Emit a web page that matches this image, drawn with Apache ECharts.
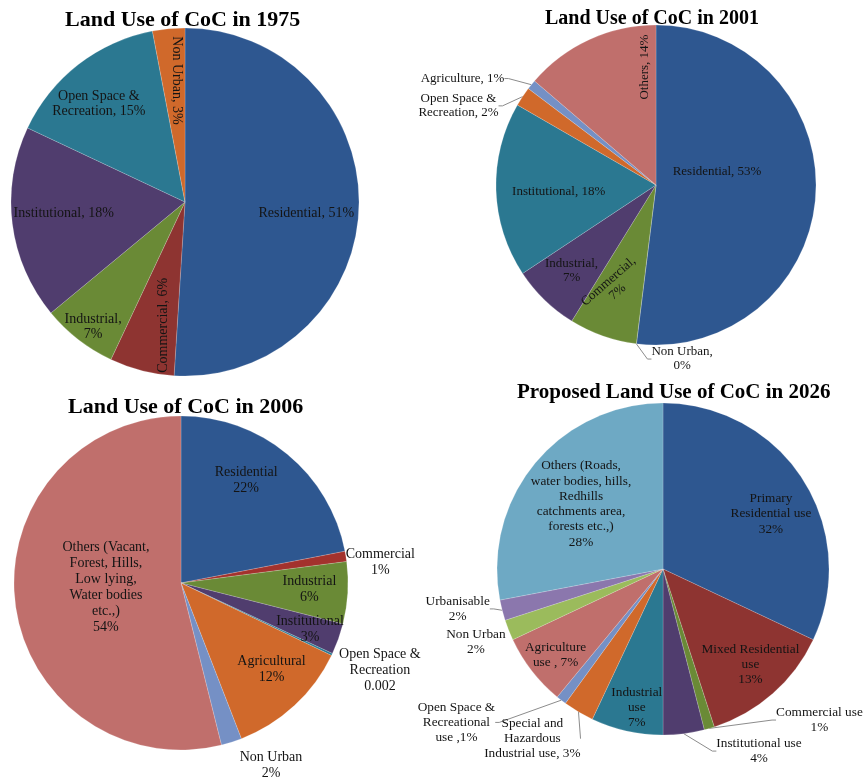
<!DOCTYPE html>
<html>
<head>
<meta charset="utf-8">
<script src="https://cdn.jsdelivr.net/npm/echarts@6/dist/echarts.min.js"></script>
<style>
html, body { margin: 0; padding: 0; background: #fff; }
#main { width: 864px; height: 783px; }
</style>
</head>
<body>
<div id="main"></div>
<script>
// palette (Excel style)
var BLUE = '#2e5790', RED = '#8e3431', GREEN = '#6a8a36', PURPLE = '#503d6e',
    TEAL = '#2b7891', ORANGE = '#d0692b', LBLUE = '#7590c5', PINK = '#c06f6c',
    LGREEN = '#9bbb5c', LAVENDER = '#8b77ad', AQUA = '#6ea9c4';

// ---- 1975 ----
var names75 = ['Residential', 'Commercial', 'Industrial', 'Institutional', 'Open Space &\nRecreation', 'Non Urban'];
var values75 = [51, 6, 7, 18, 15, 3];
var seps75 = [', ', ', ', ',\n', ', ', ', ', ', '];

// ---- 2001 ----
var names01 = ['Residential', 'Non Urban', 'Commercial', 'Industrial', 'Institutional', 'Open Space &\nRecreation', 'Agriculture', 'Others'];
var values01 = [53, 0, 7, 7, 18, 2, 1, 14];
var seps01 = [', ', ',\n', ',\n', ',\n', ', ', ', ', ', ', ', '];

// ---- 2006 ----
var names06 = ['Residential', 'Commercial', 'Industrial', 'Institutional', 'Open Space &\nRecreation', 'Agricultural', 'Non Urban',
  'Others (Vacant,\nForest, Hills,\nLow lying,\nWater bodies\netc.,)'];
var values06 = [22, 1, 6, 3, 0.2, 12, 2, 54];
var shown06 = [null, null, null, null, '0.002', null, null, null];

// ---- 2026 ----
var names26 = ['Primary\nResidential use', 'Mixed Residential\nuse', 'Commercial use', 'Institutional use', 'Industrial\nuse',
  'Special and\nHazardous\nIndustrial use', 'Open Space &\nRecreational\nuse', 'Agriculture\nuse', 'Non Urban', 'Urbanisable',
  'Others (Roads,\nwater bodies, hills,\nRedhills\ncatchments area,\nforests etc.,)'];
var values26 = [32, 13, 1, 4, 7, 3, 1, 7, 2, 2, 28];
var seps26 = ['\n', '\n', '\n', '\n', '\n', ', ', ' ,', ' , ', '\n', '\n', '\n'];

var titles = ['Land Use of CoC in 1975', 'Land Use of CoC in 2001', 'Land Use of CoC in 2006', 'Proposed Land Use of CoC in 2026'];

// layout of each pie: center, radius, label placement [radius factor, angle shift], rotation, leader lines
var pies = [
  { names: names75, values: values75, seps: seps75, center: [185, 202], r: 174, font: 14, lh: 15.5,
    colors: [BLUE, RED, GREEN, PURPLE, TEAL, ORANGE],
    place: [[0.70, 3.4], [0.72, -4.3], [0.89, -1.4], [0.70, 2], [0.75, -3.5], [0.70, 1.6]],
    rot: [0, 90, 0, 0, 0, -90], lines: [] },
  { names: names01, values: values01, seps: seps01, center: [656, 185], r: 160, font: 13, lh: 14,
    colors: [BLUE, '#999', GREEN, PURPLE, TEAL, ORANGE, LBLUE, PINK],
    place: [[0.39, -15.5], [1.10, -15.6], [0.69, 3.5], [0.75, 0.6], [0.61, -2.3], [1.33, -11.7], [1.38, -10], [0.74, 19.4]],
    rot: [0, 0, 41, 0, 0, 0, 0, 90], lines: [1, 5, 6] },
  { names: names06, values: values06, seps: null, shown: shown06, center: [181, 583], r: 167, font: 14, lh: 16,
    colors: [BLUE, '#a3322d', GREEN, PURPLE, TEAL, ORANGE, LBLUE, PINK],
    place: [[0.73, -7.2], [1.2, 3.2], [0.77, -0.7], [0.82, 0], [1.3, -1.7], [0.75, -3.5], [1.22, -8.6], [0.45, 4]],
    rot: [], lines: [] },
  { names: names26, values: values26, seps: seps26, center: [663, 569], r: 166, font: 13.3, lh: 15.3,
    colors: [BLUE, RED, GREEN, PURPLE, TEAL, ORANGE, LBLUE, PINK, LGREEN, LAVENDER, AQUA],
    place: [[0.73, 5.4], [0.78, -1.1], [1.31, -29.8], [1.24, -20.6], [0.85, -1.9], [1.29, 7], [1.55, 15.6], [0.83, -1], [1.21, 0.3], [1.26, 3.4], [0.63, -1.2]],
    rot: [], lines: [2, 3, 5, 6, 9] }
];

var titlePos = [[65, 9, 22], [545, 9, 20], [68, 396, 22], [517, 382, 21]];

function midAngles(values) {
  var tot = values.reduce(function (a, b) { return a + b; }, 0);
  var acc = 0;
  return values.map(function (v) {
    var m = (acc + v / 2) / tot * 360;
    acc += v;
    return m;
  });
}

function buildSeries(p) {
  var mids = midAngles(p.values);
  var data = p.values.map(function (v, i) {
    var txt = p.shown && p.shown[i] ? p.shown[i] : v + '%';
    var sep = p.seps ? p.seps[i] : '\n';
    var hasLine = p.lines.indexOf(i) >= 0;
    return {
      name: p.names[i],
      value: v,
      itemStyle: { color: p.colors[i] },
      label: { formatter: p.names[i] + sep + txt, rotate: p.rot[i] || 0, position: hasLine ? 'outside' : 'inside' },
      labelLine: { show: hasLine }
    };
  });
  return {
    type: 'pie',
    center: p.center,
    radius: p.r,
    startAngle: 90,
    clockwise: true,
    avoidLabelOverlap: false,
    animation: false,
    itemStyle: { borderColor: 'rgba(255,255,255,0.35)', borderWidth: 0.5 },
    label: {
      show: true,
      color: '#141414',
      fontFamily: 'Liberation Serif',
      fontSize: p.font,
      lineHeight: p.lh,
      align: 'center'
    },
    labelLine: { show: false, length: 5, length2: 4, lineStyle: { color: '#8c8c8c', width: 1 } },
    labelLayout: function (params) {
      var i = params.dataIndex;
      var a = (mids[i] + p.place[i][1]) * Math.PI / 180;
      var rr = p.place[i][0] * p.r;
      return {
        x: p.center[0] + rr * Math.sin(a),
        y: p.center[1] - rr * Math.cos(a),
        align: 'center',
        verticalAlign: 'middle'
      };
    },
    emphasis: { disabled: true },
    data: data
  };
}

var myChart = echarts.init(document.getElementById('main'));
var option = {
  backgroundColor: '#fff',
  title: titles.map(function (t, i) {
    return {
      text: t,
      left: titlePos[i][0],
      top: titlePos[i][1],
      padding: 0,
      textStyle: { fontFamily: 'Liberation Serif', fontWeight: 'bold', fontSize: titlePos[i][2], color: '#000' }
    };
  }),
  series: pies.map(buildSeries)
};
myChart.setOption(option);
window.addEventListener('resize', function () {
  myChart.resize();
});
</script>
</body>
</html>
